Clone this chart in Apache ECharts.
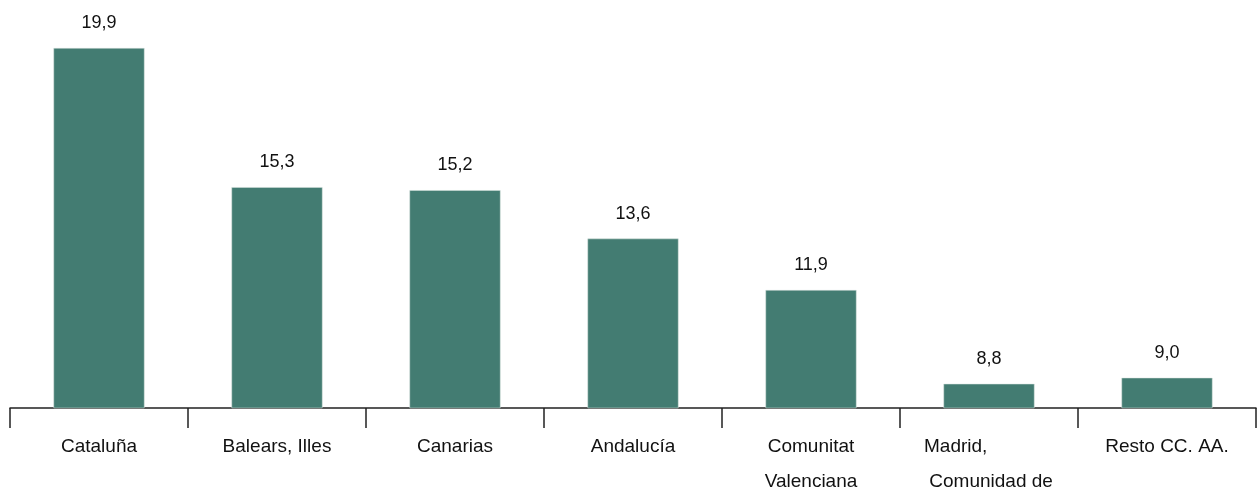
<!DOCTYPE html>
<html>
<head>
<meta charset="utf-8">
<script src="https://cdn.jsdelivr.net/npm/echarts@6/dist/echarts.min.js"></script>
<style>html,body{margin:0;padding:0;background:#fff;}#c{width:1257px;height:488px;}</style>
</head>
<body>
<div id="c"></div>
<script>
const categories = ['Cataluña', 'Balears, Illes', 'Canarias', 'Andalucía', 'Comunitat Valenciana', 'Madrid, Comunidad de', 'Resto CC. AA.'];
const values = [19.9, 15.3, 15.2, 13.6, 11.9, 8.8, 9.0];
const labelText = {
  'Comunitat Valenciana': '{c|Comunitat}\n{c|Valenciana}',
  'Madrid, Comunidad de': '{l|Madrid,}\n{l| Comunidad de}'
};
const FF = 'Liberation Sans, Arial, sans-serif';
const chart = echarts.init(document.getElementById('c'), null, {renderer: 'canvas'});
chart.setOption({
  animation: false,
  grid: {left: 10, right: 1, top: 45, bottom: 80, containLabel: false, outerBoundsMode: 'none'},
  xAxis: {
    type: 'category',
    data: categories,
    axisLine: {show: true, lineStyle: {color: '#222', width: 1.5}},
    axisTick: {show: true, length: 20, lineStyle: {color: '#222', width: 1.5}},
    axisLabel: {
      margin: 21,
      interval: 0,
      color: '#111',
      fontFamily: FF,
      fontSize: 19,
      lineHeight: 35,
      formatter: v => labelText[v] || v,
      rich: {
        c: {fontFamily: FF, fontSize: 19, lineHeight: 35, color: '#111'},
        l: {fontFamily: FF, fontSize: 19, lineHeight: 35, color: '#111', width: 130, align: 'left'}
      }
    }
  },
  yAxis: {
    type: 'value', min: 8, max: 20, show: false,
    splitLine: {show: false}
  },
  series: [{
    type: 'bar',
    data: values,
    barWidth: 91,
    itemStyle: {color: '#437c72', borderColor: '#d8e2df', borderWidth: 0.5},
    label: {
      show: true, position: 'top', distance: 16,
      color: '#111', fontSize: 18,
      fontFamily: FF,
      formatter: p => p.value.toFixed(1).replace('.', ',')
    }
  }]
});
</script>
</body>
</html>
